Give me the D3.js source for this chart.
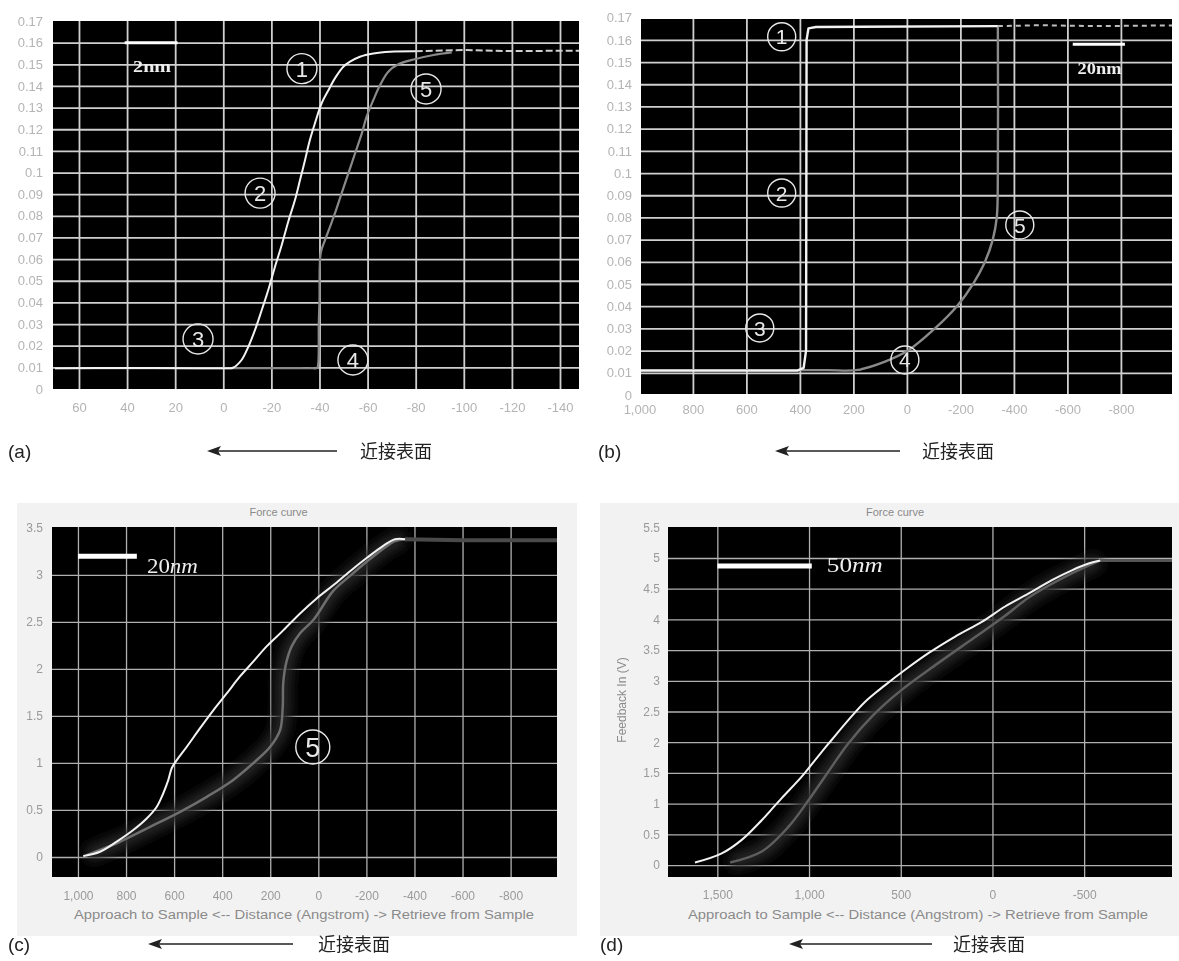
<!DOCTYPE html>
<html>
<head>
<meta charset="utf-8">
<script src="https://cdn.jsdelivr.net/npm/d3@7"></script>
<style>
  body { margin: 0; background: #fff; }
  svg { display: block; font-family: Arial, "Liberation Sans", sans-serif; }
</style>
</head>
<body>
<div id="chart"></div>
<script>
// ---- panel (a) ----
const aYTicks = [0, 0.01, 0.02, 0.03, 0.04, 0.05, 0.06, 0.07, 0.08, 0.09, 0.1, 0.11, 0.12, 0.13, 0.14, 0.15, 0.16, 0.17];
const aYLabels = ['0', '0.01', '0.02', '0.03', '0.04', '0.05', '0.06', '0.07', '0.08', '0.09', '0.1', '0.11', '0.12', '0.13', '0.14', '0.15', '0.16', '0.17'];
const aXTicks = [60, 40, 20, 0, -20, -40, -60, -80, -100, -120, -140];
const aXLabels = ['60', '40', '20', '0', '-20', '-40', '-60', '-80', '-100', '-120', '-140'];
const aApproach = [[70, 0.0096], [40, 0.0097], [10, 0.0096], [-2, 0.0096], [-4, 0.0098], [-7.6, 0.0134], [-10.4, 0.0195], [-13.2, 0.0273],
  [-16, 0.0365], [-18.7, 0.0457], [-21.5, 0.0565], [-24.3, 0.0665], [-27, 0.0773], [-29.8, 0.0873], [-31.9, 0.0965],
  [-34, 0.1058], [-36, 0.115], [-38.1, 0.1227], [-40.9, 0.132], [-43.7, 0.138], [-46.4, 0.1435], [-49.9, 0.1489],
  [-52.7, 0.1512], [-56.8, 0.1535], [-62.4, 0.155], [-69.3, 0.1558], [-80, 0.156]];
const aPlateau = [[-80, 0.156], [-100, 0.1566], [-120, 0.1561], [-148, 0.1563]];
const aRetract = [[70, 0.0096], [40, 0.0096], [10, 0.0096], [-20, 0.0096], [-32, 0.0096], [-37, 0.0096], [-39, 0.0097],
  [-39.5, 0.012], [-39.7, 0.03], [-40, 0.0411], [-40.5, 0.0627], [-42.3, 0.0688],
  [-44.4, 0.075], [-46.4, 0.0811], [-49.2, 0.0904], [-52, 0.0996], [-54.8, 0.1089], [-57.6, 0.1181], [-59.6, 0.1258],
  [-62.4, 0.1335], [-65.2, 0.1404], [-68.6, 0.1466], [-72.8, 0.15], [-79.1, 0.1522], [-87.4, 0.1543], [-95, 0.1555]];
const aMarks = ['1', '2', '3', '4', '5'];
const aMarkX = [-32.7, -15.3, 10.5, -53.9, -84.3];
const aMarkY = [0.148, 0.0905, 0.0231, 0.0134, 0.1386];

// ---- panel (b) ----
const bYTicks = aYTicks;
const bYLabels = aYLabels;
const bXTicks = [1000, 800, 600, 400, 200, 0, -200, -400, -600, -800];
const bXLabels = ['1,000', '800', '600', '400', '200', '0', '-200', '-400', '-600', '-800'];
const bApproach = [[994, 0.011], [410, 0.011], [386, 0.0122], [377, 0.02], [375, 0.16], [368, 0.1652], [340, 0.1658], [-340, 0.1662]];
const bPlateau = [[-340, 0.1662], [-500, 0.1666], [-700, 0.1662], [-991, 0.1665]];
const bRetract = [[994, 0.0112], [500, 0.0112], [300, 0.0112], [183, 0.0113], [82, 0.015], [-4, 0.02], [-105, 0.03], [-187, 0.04], [-247, 0.05],
  [-292, 0.06], [-321, 0.07], [-336, 0.08], [-340, 0.1], [-340, 0.166]];
const bMarks = ['1', '2', '3', '4', '5'];
const bMarkX = [468, 468, 550, 7.5, -422];
const bMarkY = [0.1614, 0.091, 0.0302, 0.0158, 0.0766];

// ---- panel (c) ----
const cYTicks = [0, 0.5, 1, 1.5, 2, 2.5, 3, 3.5];
const cYLabels = ['0', '0.5', '1', '1.5', '2', '2.5', '3', '3.5'];
const cXTicks = [1000, 800, 600, 400, 200, 0, -200, -400, -600, -800];
const cXLabels = ['1,000', '800', '600', '400', '200', '0', '-200', '-400', '-600', '-800'];
const cApproach = [[978, 0.01], [908, 0.056], [839, 0.163], [770, 0.287], [714, 0.41], [672, 0.535], [645, 0.678],
  [624, 0.82], [610, 0.944], [589, 1.03], [548, 1.17], [492, 1.37], [437, 1.56], [381, 1.74], [326, 1.92], [270, 2.08],
  [215, 2.24], [146, 2.41], [76, 2.59], [7, 2.75], [-62, 2.89], [-132, 3.04], [-201, 3.18], [-270, 3.31], [-319, 3.38], [-361, 3.38]];
const cPlateau = [[-361, 3.38], [-600, 3.37], [-995, 3.37]];
const cRetract = [[-361, 3.38], [-319, 3.36], [-270, 3.28], [-201, 3.14], [-132, 2.99], [-62, 2.83], [21, 2.52], [76, 2.38],
  [111, 2.24], [134, 2.06], [146, 1.85], [148, 1.6], [159, 1.35], [201, 1.17], [270, 1.0], [354, 0.82], [464, 0.64],
  [575, 0.48], [700, 0.32], [839, 0.146], [964, 0.02]];
const cMarks = ['5'];
const cMarkX = [23];
const cMarkY = [1.17];

// ---- panel (d) ----
const dYTicks = [0, 0.5, 1, 1.5, 2, 2.5, 3, 3.5, 4, 4.5, 5, 5.5];
const dYLabels = ['0', '0.5', '1', '1.5', '2', '2.5', '3', '3.5', '4', '4.5', '5', '5.5'];
const dXTicks = [1500, 1000, 500, 0, -500];
const dXLabels = ['1,500', '1,000', '500', '0', '-500'];
const dApproach = [[1622, 0.04], [1476, 0.19], [1367, 0.41], [1258, 0.73], [1149, 1.09], [1040, 1.44], [967, 1.71],
  [876, 2.04], [786, 2.36], [694, 2.66], [585, 2.93], [476, 3.18], [349, 3.45], [203, 3.72], [58, 3.96], [-69, 4.21],
  [-196, 4.42], [-324, 4.64], [-433, 4.8], [-524, 4.91], [-588, 4.96]];
const dPlateau = [[-588, 4.96], [-800, 4.96], [-980, 4.96]];
const dRetract = [[-588, 4.96], [-400, 4.7], [-200, 4.36], [-69, 4.06], [100, 3.7], [300, 3.28], [500, 2.84],
  [650, 2.44], [786, 1.98], [895, 1.52], [1004, 1.05], [1113, 0.62], [1258, 0.22], [1430, 0.04]];

const captions = ['(a)', '(b)', '(c)', '(d)'];
const nearSurface = '近接表面';
const forceTitle = 'Force curve';
const xAxisTitle = 'Approach to Sample <-- Distance (Angstrom) -> Retrieve from Sample';
const yAxisTitle = 'Feedback In (V)';

const svg = d3.select('#chart').append('svg').attr('width', 1179).attr('height', 961);
const defs = svg.append('defs');
defs.append('filter').attr('id', 'haze').attr('x', '-20%').attr('y', '-20%').attr('width', '140%').attr('height', '140%')
  .append('feGaussianBlur').attr('stdDeviation', 6);
defs.append('filter').attr('id', 'soft')
  .append('feGaussianBlur').attr('stdDeviation', 0.5);

function drawPanel(p) {
  const x = d3.scaleLinear().domain(p.xDomain).range([p.left, p.right]);
  const y = d3.scaleLinear().domain(p.yDomain).range([p.bottom, p.top]);
  const g = svg.append('g');

  if (p.frame) {
    g.append('rect').attr('x', p.frame[0]).attr('y', p.frame[1])
      .attr('width', p.frame[2]).attr('height', p.frame[3]).attr('fill', '#f2f2f2');
    g.append('text').attr('x', (p.left + p.right) / 2 + p.titleShift).attr('y', p.top - 11)
      .attr('text-anchor', 'middle').attr('font-size', 11).attr('fill', '#8a8a8a').text(forceTitle);
    g.append('text').attr('x', p.xTitleX).attr('y', p.bottom + 42).attr('text-anchor', 'middle')
      .attr('font-size', 12).attr('fill', '#8a8a8a').attr('textLength', 460).attr('lengthAdjust', 'spacingAndGlyphs')
      .text(xAxisTitle);
  }

  g.append('rect').attr('x', p.left).attr('y', p.top)
    .attr('width', p.right - p.left).attr('height', p.bottom - p.top).attr('fill', '#000');

  const inX = p.xTicks.filter(v => x(v) > p.left + 2 && x(v) < p.right - 2);
  const inY = p.yTicks.filter(v => y(v) < p.bottom - 2 && y(v) > p.top + 2);

  const grid = g.append('g').attr('filter', 'url(#soft)');
  grid.append('g').attr('transform', `translate(0,${p.bottom})`)
    .call(d3.axisBottom(x).tickValues(inX).tickSize(-(p.bottom - p.top)).tickFormat(''))
    .call(s => s.select('.domain').remove());
  grid.append('g').attr('transform', `translate(${p.left},0)`)
    .call(d3.axisLeft(y).tickValues(inY).tickSize(-(p.right - p.left)).tickFormat(''))
    .call(s => s.select('.domain').remove());
  grid.selectAll('line').attr('stroke', p.gridColor).attr('stroke-width', p.gridWidth);

  const lab = g.append('g').attr('fill', p.labelColor);
  lab.append('g').attr('transform', `translate(0,${p.bottom})`)
    .call(d3.axisBottom(x).tickValues(p.xTicks).tickSize(0).tickPadding(p.xPad).tickFormat((d, i) => p.xLabels[i]))
    .call(s => s.select('.domain').remove());
  lab.append('g').attr('transform', `translate(${p.left},0)`)
    .call(d3.axisLeft(y).tickValues(p.yTicks).tickSize(0).tickPadding(p.yPad).tickFormat((d, i) => p.yLabels[i]))
    .call(s => s.select('.domain').remove());
  lab.selectAll('text').attr('fill', p.labelColor).attr('font-size', p.labelFont)
    .attr('font-family', 'Arial, "Liberation Sans", sans-serif');

  const clipId = 'clip' + p.id;
  defs.append('clipPath').attr('id', clipId).append('rect')
    .attr('x', p.left).attr('y', p.top).attr('width', p.right - p.left).attr('height', p.bottom - p.top);
  const plot = g.append('g').attr('clip-path', `url(#${clipId})`);

  const line = d3.line().x(d => x(d[0])).y(d => y(d[1])).curve(p.curve);

  if (p.haze) {
    plot.append('path').datum(p.retract).attr('d', line).attr('fill', 'none')
      .attr('stroke', '#262626').attr('stroke-width', 16).attr('filter', 'url(#haze)');
  }
  plot.append('path').datum(p.plateau).attr('d', d3.line().x(d => x(d[0])).y(d => y(d[1])))
    .attr('fill', 'none').attr('stroke', p.plateauColor).attr('stroke-width', p.plateauWidth)
    .attr('stroke-dasharray', p.plateauDash);
  plot.append('path').datum(p.retract).attr('d', line).attr('fill', 'none')
    .attr('stroke', p.retractColor).attr('stroke-width', p.retractWidth);
  plot.append('path').datum(p.approach).attr('d', p.approachCurve ? d3.line().x(d => x(d[0])).y(d => y(d[1])).curve(p.approachCurve) : line)
    .attr('fill', 'none').attr('stroke', '#f2f2f2').attr('stroke-width', p.approachWidth)
    .attr('stroke-linejoin', 'round');

  // scale bar and its text
  plot.append('line').attr('x1', x(p.bar[0])).attr('x2', x(p.bar[1])).attr('y1', y(p.bar[2])).attr('y2', y(p.bar[2]))
    .attr('stroke', '#fff').attr('stroke-width', p.barWidth);
  const bt = plot.append('text').attr('x', x(p.barText[0])).attr('y', y(p.barText[1]))
    .attr('font-family', '"Liberation Serif", "DejaVu Serif", serif').attr('font-size', p.barFont)
    .attr('font-weight', p.barWeight).attr('fill', '#eee')
    .attr('textLength', p.barLen).attr('lengthAdjust', 'spacingAndGlyphs');
  bt.append('tspan').text(p.barLabel[0]);
  bt.append('tspan').attr('font-style', p.barItalic).text(p.barLabel[1]);

  // circled numbers
  const mk = plot.selectAll('g.mark').data(p.marks.map((t, i) => ({ t, x: p.markX[i], y: p.markY[i] })))
    .join('g').attr('class', 'mark').attr('transform', d => `translate(${x(d.x)},${y(d.y)})`);
  mk.append('circle').attr('r', p.markR).attr('fill', 'none').attr('stroke', '#e8e8e8').attr('stroke-width', 1.4);
  mk.append('text').attr('text-anchor', 'middle').attr('dy', '0.36em').attr('font-size', p.markFont)
    .attr('fill', '#e8e8e8').text(d => d.t);

  if (p.yTitle) {
    g.append('text').attr('transform', `translate(${p.yTitle[0]},${p.yTitle[1]}) rotate(-90)`)
      .attr('text-anchor', 'middle').attr('font-size', 12).attr('fill', '#8a8a8a').text(yAxisTitle);
  }
}

const smooth = d3.curveCatmullRom.alpha(0.5);

drawPanel({
  id: 'a', left: 53, right: 579, top: 21, bottom: 389, xDomain: [70.8, -147.9], yDomain: [0, 0.17],
  xTicks: aXTicks, xLabels: aXLabels, yTicks: aYTicks, yLabels: aYLabels, xPad: 14, yPad: 10,
  gridColor: '#cfcfcf', gridWidth: 1.8, labelColor: '#b4b4b4', labelFont: 13,
  approach: aApproach, retract: aRetract, plateau: aPlateau, curve: smooth,
  approachWidth: 2, retractColor: '#8a8a8a', retractWidth: 2.2,
  plateauColor: '#cfcfcf', plateauWidth: 2, plateauDash: '7,3',
  bar: [41, 19, 0.16], barWidth: 3, barText: [37.5, 0.1465], barLabel: ['2', 'nm'], barItalic: 'normal',
  barFont: 16, barWeight: 'bold', barLen: 38,
  marks: aMarks, markX: aMarkX, markY: aMarkY, markR: 15, markFont: 22
});

drawPanel({
  id: 'b', left: 641, right: 1172, top: 19, bottom: 394, xDomain: [994, -991], yDomain: [0.00045, 0.1694],
  xTicks: bXTicks, xLabels: bXLabels, yTicks: bYTicks, yLabels: bYLabels, xPad: 11, yPad: 9,
  gridColor: '#cfcfcf', gridWidth: 1.8, labelColor: '#b4b4b4', labelFont: 13,
  approach: bApproach, retract: bRetract, plateau: bPlateau, curve: smooth, approachCurve: d3.curveLinear,
  approachWidth: 2.4, retractColor: '#8a8a8a', retractWidth: 2.4,
  plateauColor: '#bdbdbd', plateauWidth: 2, plateauDash: '5,4',
  bar: [-620, -815, 0.158], barWidth: 3, barText: [-638, 0.1445], barLabel: ['20', 'nm'], barItalic: 'normal',
  barFont: 16, barWeight: 'bold', barLen: 44,
  marks: bMarks, markX: bMarkX, markY: bMarkY, markR: 14, markFont: 21
});

drawPanel({
  id: 'c', left: 52, right: 557, top: 527, bottom: 877, xDomain: [1108, -993], yDomain: [-0.213, 3.51],
  xTicks: cXTicks, xLabels: cXLabels, yTicks: cYTicks, yLabels: cYLabels, xPad: 14, yPad: 9,
  gridColor: '#b0b0b0', gridWidth: 1.3, labelColor: '#9a9a9a', labelFont: 12,
  frame: [17, 503, 560, 433], titleShift: -26, xTitleX: 304,
  approach: cApproach, retract: cRetract, plateau: cPlateau, curve: smooth, haze: true,
  approachWidth: 2, retractColor: '#6e6e6e', retractWidth: 2.5,
  plateauColor: '#4a4a4a', plateauWidth: 4, plateauDash: null,
  bar: [1000, 755, 3.2], barWidth: 5, barText: [713, 3.02], barLabel: ['20', 'nm'], barItalic: 'italic',
  barFont: 21, barWeight: 'normal', barLen: 51,
  marks: cMarks, markX: cMarkX, markY: cMarkY, markR: 17, markFont: 27
});

drawPanel({
  id: 'd', left: 668, right: 1172, top: 527, bottom: 877, xDomain: [1769, -979], yDomain: [-0.195, 5.505],
  xTicks: dXTicks, xLabels: dXLabels, yTicks: dYTicks, yLabels: dYLabels, xPad: 13, yPad: 8,
  gridColor: '#b0b0b0', gridWidth: 1.3, labelColor: '#9a9a9a', labelFont: 12,
  frame: [600, 503, 579, 433], titleShift: -25, xTitleX: 918, yTitle: [626, 700],
  approach: dApproach, retract: dRetract, plateau: dPlateau, curve: smooth, haze: true,
  approachWidth: 2, retractColor: '#5e5e5e', retractWidth: 2.5,
  plateauColor: '#555', plateauWidth: 3, plateauDash: null,
  bar: [1500, 985, 4.87], barWidth: 5, barText: [903, 4.77], barLabel: ['50', 'nm'], barItalic: 'italic',
  barFont: 21, barWeight: 'normal', barLen: 56,
  marks: [], markX: [], markY: [], markR: 0, markFont: 0
});

// captions under each panel
const capPos = [
  { cx: 8, ay: 451, a0: 337, a1: 207, tx: 360 },
  { cx: 598, ay: 451, a0: 900, a1: 775, tx: 922 },
  { cx: 8, ay: 944, a0: 293, a1: 148, tx: 318 },
  { cx: 600, ay: 944, a0: 932, a1: 789, tx: 953 }
];
const cap = svg.append('g');
capPos.forEach((c, i) => {
  cap.append('text').attr('x', c.cx).attr('y', c.ay + 7).attr('font-size', 19).attr('fill', '#222').text(captions[i]);
  cap.append('line').attr('x1', c.a0).attr('x2', c.a1 + 10).attr('y1', c.ay).attr('y2', c.ay)
    .attr('stroke', '#222').attr('stroke-width', 1.5);
  cap.append('path').attr('d', `M${c.a1},${c.ay} L${c.a1 + 14},${c.ay - 5} L${c.a1 + 11},${c.ay} L${c.a1 + 14},${c.ay + 5} Z`)
    .attr('fill', '#222');
  cap.append('text').attr('x', c.tx).attr('y', c.ay + 7).attr('font-size', 18)
    .attr('font-family', '"Noto Sans CJK SC", "Noto Sans CJK JP", sans-serif').attr('fill', '#222').text(nearSurface);
});
</script>
</body>
</html>
